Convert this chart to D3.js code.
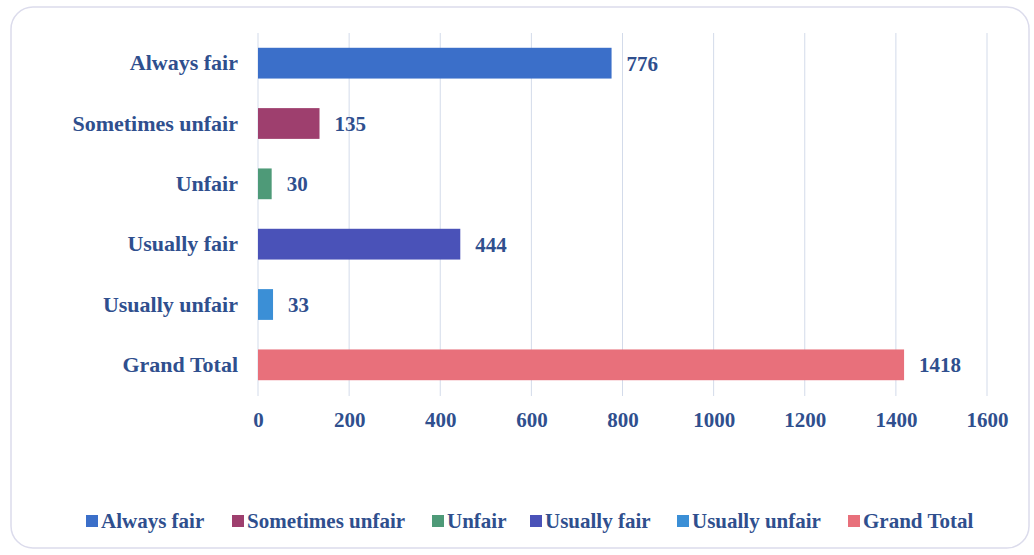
<!DOCTYPE html>
<html>
<head>
<meta charset="utf-8">
<script src="https://cdn.jsdelivr.net/npm/d3@7"></script>
<style>
  body { margin: 0; background: #fff; }
  text { font-family: "Liberation Serif", serif; font-weight: bold; fill: #2f4f8e; }
</style>
</head>
<body>
<svg id="graph"></svg>
<script>
var categories = ["Always fair", "Sometimes unfair", "Unfair", "Usually fair", "Usually unfair", "Grand Total"];
var values = [776, 135, 30, 444, 33, 1418];
var colors = ["#3b6fc9", "#9e3f6e", "#4e9a78", "#4a52b8", "#3b8fd6", "#e8707b"];
var ticks = [0, 200, 400, 600, 800, 1000, 1200, 1400, 1600];

var w = 1034, h = 555;
var svg = d3.select("#graph").attr("width", w).attr("height", h);

// cadre arrondi
svg.append("rect")
    .attr("x", 11).attr("y", 7)
    .attr("width", 1018).attr("height", 541)
    .attr("rx", 22)
    .attr("fill", "none")
    .attr("stroke", "#dcdcec")
    .attr("stroke-width", 1.5);

var scaleX = d3.scaleLinear().domain([0, 1600]).range([258, 987]);
var scaleY = d3.scaleBand().domain(categories).range([33, 395]).paddingInner(0.49).paddingOuter(0.245);

// grille
svg.append("g").selectAll("line")
    .data(ticks)
    .enter().append("line")
    .attr("x1", d => scaleX(d)).attr("x2", d => scaleX(d))
    .attr("y1", 33).attr("y2", 396)
    .attr("stroke", "#d3dbea")
    .attr("stroke-width", 1);

// axe X
var axisX = d3.axisBottom(scaleX).tickValues(ticks).tickFormat(d3.format("d")).tickSize(0).tickPadding(16);
var gx = svg.append("g").attr("transform", "translate(0,396)").call(axisX);
gx.select(".domain").remove();
gx.selectAll("text").attr("font-size", 21).attr("font-family", "Liberation Serif").attr("fill", "#2f4f8e");

// axe Y
var axisY = d3.axisLeft(scaleY).tickSize(0).tickPadding(20);
var gy = svg.append("g").attr("transform", "translate(258,0)").call(axisY);
gy.select(".domain").remove();
gy.selectAll("text").attr("font-size", 22).attr("font-family", "Liberation Serif").attr("fill", "#2f4f8e");

// barres
svg.append("g").selectAll("rect")
    .data(values)
    .enter().append("rect")
    .attr("x", scaleX(0))
    .attr("y", (d, i) => scaleY(categories[i]))
    .attr("width", d => scaleX(d) - scaleX(0))
    .attr("height", scaleY.bandwidth())
    .attr("fill", (d, i) => colors[i]);

// étiquettes
svg.append("g").selectAll("text")
    .data(values)
    .enter().append("text")
    .attr("x", d => scaleX(d) + 15)
    .attr("y", (d, i) => scaleY(categories[i]) + scaleY.bandwidth() / 2)
    .attr("dy", "0.35em")
    .attr("font-size", 21)
    .text(d => d);

// légende
var legendX = [86, 232, 432, 530, 677, 848];
var legend = svg.append("g").selectAll("g")
    .data(categories)
    .enter().append("g")
    .attr("transform", (d, i) => "translate(" + legendX[i] + ",521)");
legend.append("rect")
    .attr("x", 0).attr("y", -6)
    .attr("width", 12).attr("height", 12)
    .attr("fill", (d, i) => colors[i]);
legend.append("text")
    .attr("x", 15).attr("dy", "0.35em")
    .attr("font-size", 21)
    .text(d => d);
</script>
</body>
</html>
